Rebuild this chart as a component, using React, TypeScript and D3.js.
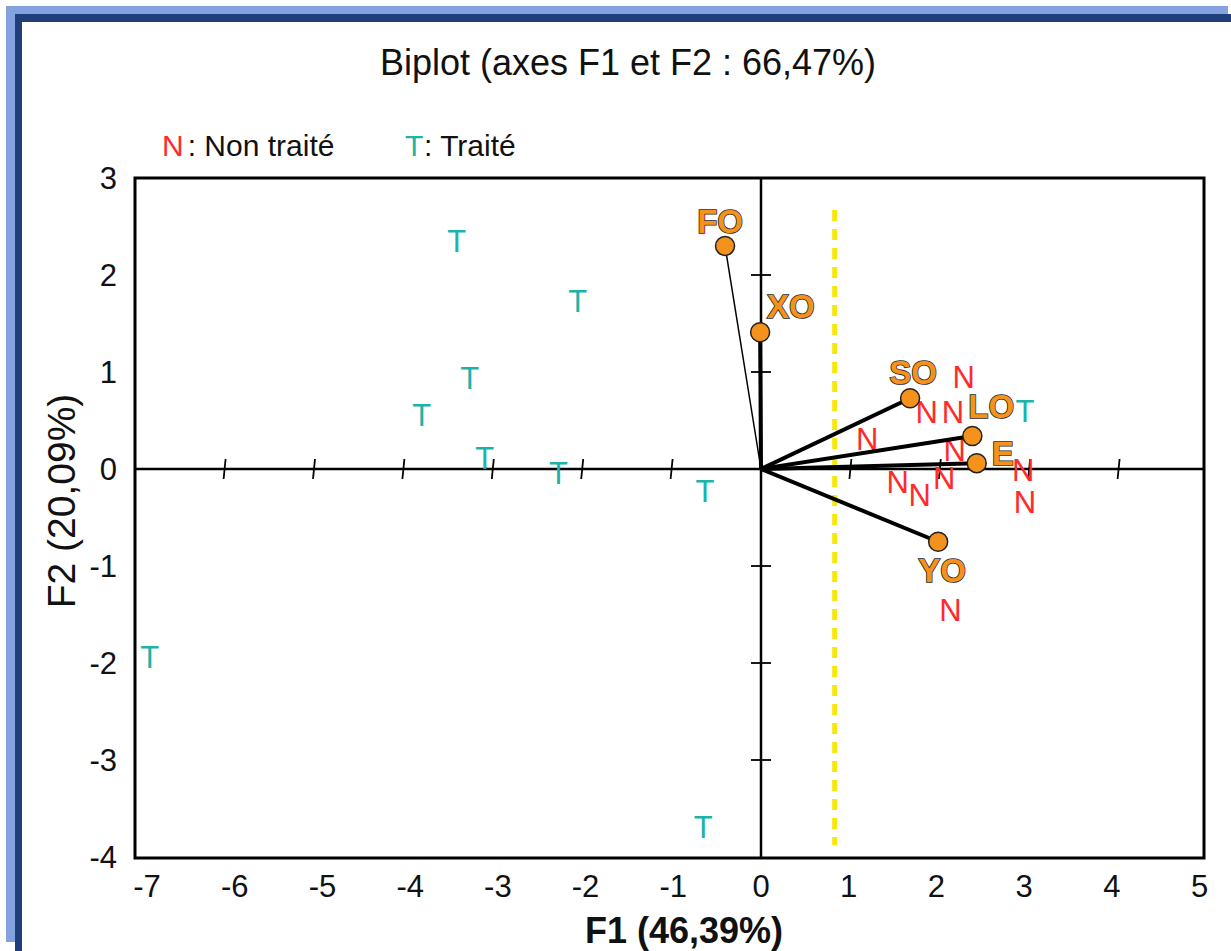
import React from 'react';
import * as d3 from 'd3';

// variable vectors (F1, F2)
const varNames = ['FO', 'XO', 'SO', 'LO', 'E', 'YO'];
const varF1 = [-0.41, -0.01, 1.7, 2.41, 2.46, 2.02];
const varF2 = [2.3, 1.41, 0.73, 0.34, 0.06, -0.75];

// observations: T = traité, N = non traité
const treatedF1 = [-3.47, -2.09, -3.32, -3.87, -3.15, -2.31, -0.64, -6.97, -0.66, 3.01];
const treatedF2 = [2.35, 1.73, 0.94, 0.56, 0.11, -0.04, -0.22, -1.94, -3.69, 0.6];
const untreatedF1 = [2.31, 1.89, 2.19, 1.21, 2.21, 1.56, 1.81, 2.09, 2.99, 3.01, 2.16];
const untreatedF2 = [0.95, 0.59, 0.59, 0.31, 0.2, -0.13, -0.27, -0.09, -0.01, -0.34, -1.45];

const xTicks = [-7, -6, -5, -4, -3, -2, -1, 0, 1, 2, 3, 4, 5];
const yTicks = [3, 2, 1, 0, -1, -2, -3, -4];
const cutF1 = 0.84;
const cutF2 = [2.67, -3.88];

const W = 1231;
const H = 951;
const font = "'Liberation Sans', Arial, sans-serif";
const orange = '#f5921b';
const red = '#ff2a2a';
const teal = '#1db3a9';

// label offsets (px) for the variable names
const labelPos = {
  FO: { dx: -5, dy: -13, anchor: 'middle' },
  XO: { dx: 7, dy: -14, anchor: 'start' },
  SO: { dx: 3, dy: -14, anchor: 'middle' },
  LO: { dx: -4, dy: -18, anchor: 'start' },
  E: { dx: 15, dy: 2, anchor: 'start' },
  YO: { dx: 4, dy: 40, anchor: 'middle' },
};

const App = () => {
  const left = 135, right = 1204, top = 178, bottom = 858;
  const x = d3.scaleLinear().domain([-7, 5]).range([761 - 7 * 87.7, 761 + 5 * 87.7]);
  const y = d3.scaleLinear().domain([-4, 3]).range([bottom - 1, top]);
  // the tick marks on the central axis are spaced slightly wider than the labels in the original
  const xTickPos = d3.scaleLinear().domain([-7, 5]).range([761 - 7 * 89.4, 761 + 5 * 89.4]);

  const thick = (n) => (n === 'FO' ? 1.5 : 4);

  return (
    <svg width={W} height={H} style={{ position: 'absolute', left: 0, top: 0, background: '#fff' }} fontFamily={font}>
      {/* page frame */}
      <rect x={6} y={6} width={1222} height={8} fill="#84a2df" />
      <rect x={6} y={6} width={9} height={936} fill="#84a2df" />
      <rect x={15} y={14} width={W - 15} height={8} fill="#213e7c" />
      <rect x={15} y={14} width={7} height={H - 14} fill="#213e7c" />

      <text x={628} y={75} textAnchor="middle" fontSize={36} fill="#111">
        Biplot (axes F1 et F2 : 66,47%)
      </text>

      {/* legend */}
      <text x={162} y={156} fontSize={30} fill="#111">
        <tspan fill={red}>N</tspan>
        <tspan dx={4}>: Non traité</tspan>
      </text>
      <text x={405} y={156} fontSize={30} fill="#111">
        <tspan fill={teal}>T</tspan>
        <tspan dx={4}>: Traité</tspan>
      </text>

      {/* plot frame */}
      <rect x={left} y={top} width={right - left} height={bottom - top} fill="none" stroke="#000" strokeWidth={3} />

      {/* tick labels */}
      {yTicks.map((t) => (
        <text key={'y' + t} x={117} y={y(t)} dy="0.36em" textAnchor="end" fontSize={31} fill="#111">
          {t}
        </text>
      ))}
      {xTicks.map((t) => (
        <text key={'x' + t} x={x(t)} y={897} textAnchor="middle" fontSize={31} fill="#111">
          {t}
        </text>
      ))}

      {/* central axes */}
      <line x1={left} x2={right} y1={y(0)} y2={y(0)} stroke="#000" strokeWidth={2.5} />
      <line x1={x(0)} x2={x(0)} y1={top} y2={bottom} stroke="#000" strokeWidth={2.5} />
      {xTicks.filter((t) => t !== 0 && t > -7 && t < 5).map((t) => (
        <line key={'tx' + t} x1={xTickPos(t) + 1} x2={xTickPos(t) - 1} y1={y(0) - 10} y2={y(0) + 10} stroke="#000" strokeWidth={1.8} />
      ))}
      {yTicks.filter((t) => t !== 0 && t > -4 && t < 3).map((t) => (
        <line key={'ty' + t} x1={x(0) - 10} x2={x(0) + 10} y1={y(t)} y2={y(t)} stroke="#000" strokeWidth={1.8} />
      ))}

      {/* yellow cut line */}
      <line x1={x(cutF1)} x2={x(cutF1)} y1={y(cutF2[0])} y2={y(cutF2[1])} stroke="#f7e70f" strokeWidth={5} strokeDasharray="11 8" />

      {/* observations */}
      {treatedF1.map((v, i) => (
        <text key={'t' + i} x={x(v)} y={y(treatedF2[i])} dy="0.36em" textAnchor="middle" fontSize={31} fill={teal}>
          T
        </text>
      ))}
      {untreatedF1.map((v, i) => (
        <text key={'n' + i} x={x(v)} y={y(untreatedF2[i])} dy="0.36em" textAnchor="middle" fontSize={31} fill={red}>
          N
        </text>
      ))}

      {/* variable vectors */}
      {varNames.map((n, i) => (
        <line key={'v' + n} x1={x(0)} y1={y(0)} x2={x(varF1[i])} y2={y(varF2[i])} stroke="#000" strokeWidth={thick(n)} />
      ))}
      {varNames.map((n, i) => (
        <circle key={'c' + n} cx={x(varF1[i])} cy={y(varF2[i])} r={9.5} fill={orange} stroke="#222" strokeWidth={1.5} />
      ))}
      {varNames.map((n, i) => {
        const p = labelPos[n];
        return (
          <text
            key={'l' + n}
            x={x(varF1[i]) + p.dx}
            y={y(varF2[i]) + p.dy}
            textAnchor={p.anchor}
            fontSize={33}
            fontWeight="bold"
            fill={orange}
            stroke="#2a2a2a"
            strokeWidth={1.6}
            paintOrder="stroke"
          >
            {n}
          </text>
        );
      })}

      {/* axis titles */}
      <text x={684} y={943} textAnchor="middle" fontSize={36} fontWeight="bold" fill="#111">
        F1 (46,39%)
      </text>
      <text transform="translate(75,501) rotate(-90)" textAnchor="middle" fontSize={39} fill="#111">
        F2 (20,09%)
      </text>
    </svg>
  );
};

export default App;
